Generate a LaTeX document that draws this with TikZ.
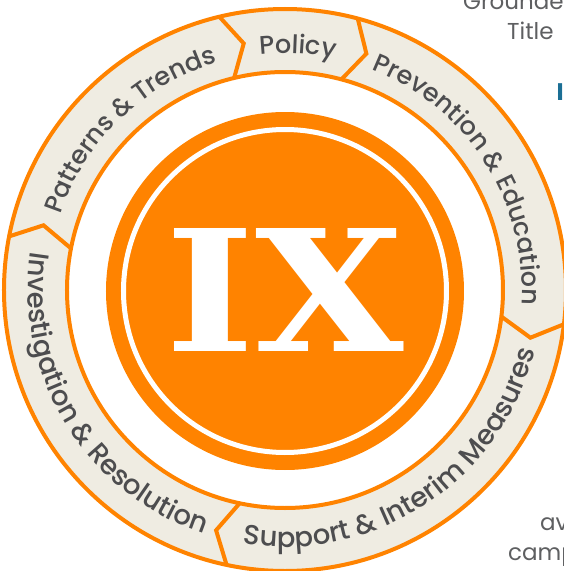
\documentclass[tikz,border=0pt]{standalone}
\usepackage{fontspec}
\setmainfont{Poppins}
\newfontfamily\segfamily{Poppins Medium}
\newfontfamily\logofont{DejaVu Serif}
\usetikzlibrary{decorations.text}
\definecolor{ink}{HTML}{4D4D4F}
\definecolor{muted}{HTML}{5E5F61}
\definecolor{ixorange}{HTML}{FF8300}
\definecolor{band}{HTML}{EFECE2}
\definecolor{teal}{HTML}{1B6F95}
\newcommand\segfont{\segfamily\fontsize{25.5}{30}\selectfont}
\newcommand\segfontlow{\segfamily\fontsize{27.5}{32}\selectfont}
\newcommand\rout{281}
\newcommand\rin{218}
\newcommand\rmid{250}

\begin{document}
\begin{tikzpicture}[
  x=1pt,y=1pt,
  rim/.style={draw=ixorange,line width=4pt},
  seam/.style={draw=ixorange,line width=4pt,line join=miter},
  toplabel/.style={decorate,decoration={text along path,text align=center,
                   text color=ink,text={|\segfont|#1}}},
  lowlabel/.style={decorate,decoration={text along path,text align=center,
                   text color=ink,text={|\segfontlow|#1}}},
  aside/.style={font=\fontsize{23}{28}\selectfont,text=muted,inner sep=0pt,anchor=base west}
]
\useasboundingbox (-285,-281) rectangle (279,290);
\clip (-285,-281) rectangle (279,290);

% Ring band and chevron seams
\fill[band,even odd rule] (0,0) circle (\rout) (0,0) circle (\rin);
\foreach \a in {75,103.5,169,258,353}
  \draw[seam] (\a:\rin) -- ({\a-4}:\rmid) -- (\a:\rout);
\draw[rim] (0,0) circle (\rout);
\draw[rim] (0,0) circle (\rin);

% Centre badge
\fill[ixorange] (0,-1) circle (179);
\draw[white,line width=5pt] (0,-1) circle (161.5);
\node[text=white,inner sep=0pt] (logo) at (-0.5,0.5)
  {\resizebox{238pt}{123pt}{\logofont\bfseries IX}};

% Segment labels, top half read clockwise
\path[toplabel={Policy}] (147:237) arc[start angle=147,end angle=27,radius=237];
\path[toplabel={Patterns {\&} Trends}] (214:237) arc[start angle=214,end angle=54,radius=237];
\path[toplabel={Prevention {\&} Education}] (122:237) arc[start angle=122,end angle=-57,radius=237];

% Segment labels, bottom half read counter-clockwise
\path[lowlabel={Support {\&} Interim Measures}] (-156:257) arc[start angle=-156,end angle=43,radius=257];
\path[lowlabel={Investigation {\&} Resolution}] (111:257) arc[start angle=111,end angle=312,radius=257];

% Cut-off page text at the right edge
\node[aside] (grounded) at (178,280) {Grounde};
\node[aside] (title) at (222,251) {Title};
\node[aside,text=teal,font=\fontsize{24}{28}\selectfont\bfseries] (heading) at (271.5,190) {I};
\node[aside] (avail) at (255,-240) {av};
\node[aside] (campus) at (223,-270) {camp};

\end{tikzpicture}
\end{document}
